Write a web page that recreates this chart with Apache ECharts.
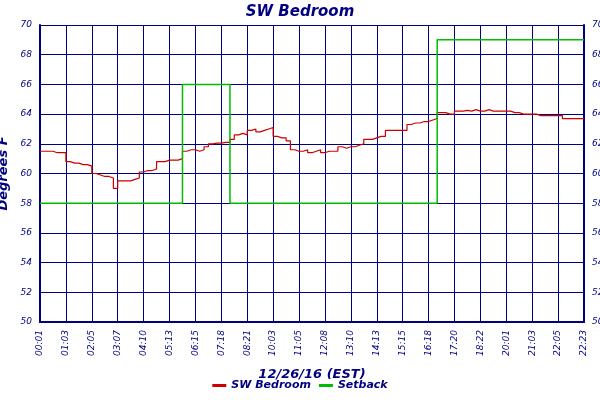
<!DOCTYPE html>
<html><head><meta charset="utf-8">
<script src="https://cdn.jsdelivr.net/npm/echarts@6/dist/echarts.min.js"></script>
<style>html,body{margin:0;padding:0;background:#fff}#c{width:600px;height:400px}</style>
</head><body><div id="c"></div>
<script>
const tickLabels = ['00:01','01:03','02:05','03:07','04:10','05:13','06:15','07:18','08:21','10:03','11:05','12:08','13:10','14:13','15:15','16:18','17:20','18:22','20:01','21:03','22:05','22:23'];
const bedroom = [
61.5,61.5,61.5,61.4,61.4,61.4,
60.8,60.7,60.7,60.6,60.6,60.5,
60.0,59.9,59.8,59.8,59.7,
59.0,59.5,59.5,59.5,59.6,59.7,
60.1,60.2,60.2,60.3,
60.8,60.8,60.9,60.9,60.9,61.0,
61.5,61.6,61.6,61.5,61.6,61.8,
62.0,62.05,62.05,62.1,62.1,
62.3,62.6,62.7,62.6,62.9,63.0,62.8,
62.9,63.0,63.1,
62.5,62.4,62.4,62.2,
61.6,61.5,61.5,61.6,61.4,61.5,61.6,61.4,61.5,61.5,61.5,61.8,61.7,
61.8,61.8,61.9,62.0,62.3,62.3,
62.4,62.5,62.5,62.9,62.9,62.9,
62.9,62.9,63.3,63.4,
63.4,63.5,63.5,63.6,63.7,
64.1,64.1,64.0,64.0,64.2,64.2,64.25,
64.2,64.3,64.2,64.2,64.3,64.2,
64.2,64.2,64.2,64.2,64.1,64.1,64.0,64.0,64.0,64.0,
63.9,63.9,63.9,63.9,63.9,63.9,
63.7,63.7,63.7,63.7,63.7,63.7];
const setback = [];
const setbackSegments = [[33,58],[11,66],[48,58],[35,69]]; // [count, value]
setbackSegments.forEach(([n,v])=>{for(let i=0;i<n;i++)setback.push(v);});
const cats = bedroom.map((_,i)=>i);
const navy = '#000080';
const font = {color:navy,fontStyle:'italic',fontFamily:'Verdana, DejaVu Sans',fontSize:9};
const chart = echarts.init(document.getElementById('c'));
chart.setOption({
  backgroundColor:'#fff',
  animation:false,
  title:{text:'SW Bedroom',left:'center',top:0,textStyle:{color:navy,fontStyle:'italic',fontWeight:'bold',fontSize:15,fontFamily:'DejaVu Sans'}},
  grid:{left:40,right:16,top:25,bottom:78,containLabel:false,outerBoundsMode:'none'},
  legend:{bottom:4,itemWidth:14,itemHeight:3,icon:'rect',textStyle:{color:navy,fontStyle:'italic',fontWeight:'bold',fontSize:11,fontFamily:'DejaVu Sans'},data:['SW Bedroom','Setback']},
  xAxis:{type:'category',data:cats,boundaryGap:false,
    name:'12/26/16 (EST)',nameLocation:'middle',nameGap:46,
    nameTextStyle:{color:navy,fontStyle:'italic',fontWeight:'bold',fontSize:13,fontFamily:'DejaVu Sans'},
    axisLine:{lineStyle:{color:navy,width:2}},
    axisTick:{show:false},
    axisLabel:Object.assign({},font,{interval:5,rotate:90,formatter:v=>tickLabels[Math.round(v/6)]||''}),
    splitLine:{show:true,interval:5,lineStyle:{color:navy,width:1}}},
  yAxis:[
    {type:'value',min:50,max:70,interval:2,name:'Degrees F',nameLocation:'middle',nameGap:26,
     nameTextStyle:{color:navy,fontStyle:'italic',fontWeight:'bold',fontSize:13,fontFamily:'DejaVu Sans'},
     axisLine:{show:true,lineStyle:{color:navy,width:2}},axisTick:{show:false},
     axisLabel:font,splitLine:{lineStyle:{color:navy,width:1}}},
    {type:'value',min:50,max:70,interval:2,position:'right',
     axisLine:{show:true,lineStyle:{color:navy,width:2}},axisTick:{show:false},
     axisLabel:font,splitLine:{show:false}}
  ],
  series:[
    {name:'SW Bedroom',type:'line',data:bedroom,step:'end',symbol:'none',lineStyle:{color:'#cc0000',width:1.2},itemStyle:{color:'#cc0000'}},
    {name:'Setback',type:'line',data:setback,step:'end',symbol:'none',lineStyle:{color:'#00bb00',width:1.5},itemStyle:{color:'#00bb00'}}
  ]
});
</script></body></html>
